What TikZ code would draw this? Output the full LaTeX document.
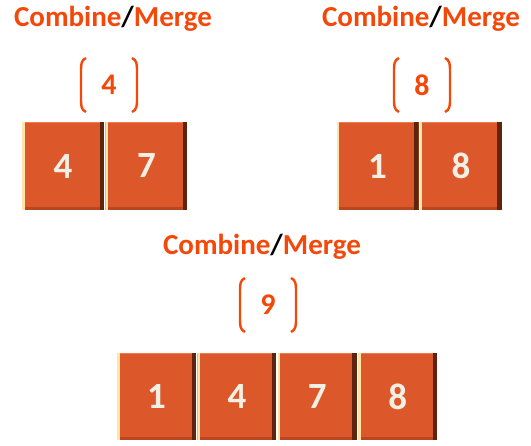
\documentclass[tikz,border=0pt]{standalone}
\usepackage{fontspec}
\setmainfont{Carlito}
\usetikzlibrary{positioning}

\definecolor{mergeorange}{HTML}{F4470A}
\definecolor{cellfill}{HTML}{DC582B}
\definecolor{celltext}{HTML}{F2EFE4}
\definecolor{bevlight}{HTML}{FFE6A8}
\definecolor{bevdark}{HTML}{5E2410}
\definecolor{bevbottom}{HTML}{B9461F}
\definecolor{bevtop}{HTML}{F07A4A}

\begin{document}
\begin{tikzpicture}[
  x=1pt, y=-1pt,
  title/.style={font=\fontsize{29}{30}\selectfont\bfseries, text=mergeorange,
                inner sep=0pt, anchor=base},
  cell/.style={rectangle, fill=cellfill, inner sep=0pt, minimum width=82pt,
               minimum height=88pt, text=celltext,
               font=\fontsize{37}{38}\selectfont\bfseries,
               text depth=-10pt,
               path picture={
                 \fill[bevtop] (path picture bounding box.north west) rectangle
                   ([yshift=-1.5pt]path picture bounding box.north east);
                 \fill[bevbottom] (path picture bounding box.south west) rectangle
                   ([yshift=3pt]path picture bounding box.south east);
                 \fill[bevlight] (path picture bounding box.south west) rectangle
                   ([xshift=2.5pt]path picture bounding box.north west);
                 \fill[bevdark] ([xshift=-4.5pt]path picture bounding box.south east) rectangle
                   (path picture bounding box.north east);
               }},
  wide/.style={cell, minimum width=79pt, minimum height=87pt},
  res/.style={font=\fontsize{30}{31}\selectfont\bfseries, text=mergeorange, inner sep=0pt},
  paren/.style={draw=mergeorange, line width=2.4pt},
]
\useasboundingbox (0,0) rectangle (531,446);

% titles
\node[title] (t1) at (113,27) {Combine\textcolor{black}{/}Merge};
\node[title] (t2) at (421,27) {Combine\textcolor{black}{/}Merge};
\node[title] (t3) at (262,255) {Combine\textcolor{black}{/}Merge};

% merged values in brackets
\node[res] (r1) at (109,85) {4};
\node[res] (r2) at (422,85) {8};
\node[res] (r3) at (268,305) {9};
\foreach \cx/\cy in {109/85, 422/85, 268/305} {
  \draw[paren] ({\cx-23},{\cy-27}) .. controls ({\cx-28},{\cy-25}) and ({\cx-28},{\cy-20}) .. ({\cx-28},{\cy-14})
    -- ({\cx-28},{\cy+14}) .. controls ({\cx-28},{\cy+20}) and ({\cx-28},{\cy+25}) .. ({\cx-23},{\cy+27});
  \draw[paren] ({\cx+23},{\cy-27}) .. controls ({\cx+28},{\cy-25}) and ({\cx+28},{\cy-20}) .. ({\cx+28},{\cy-14})
    -- ({\cx+28},{\cy+14}) .. controls ({\cx+28},{\cy+20}) and ({\cx+28},{\cy+25}) .. ({\cx+23},{\cy+27});
}

% left pair
\node[cell] (a4) at (63,166) {4};
\node[cell, right=1pt of a4] (a7) {7};

% right pair
\node[cell] (b1) at (377.5,166) {1};
\node[cell, right=1pt of b1] (b8) {8};

% merged row
\node[wide] (c1) at (156.5,396.5) {1};
\node[wide, right=1pt of c1] (c4) {4};
\node[wide, right=1pt of c4] (c7) {7};
\node[wide, right=1pt of c7] (c8) {8};
\end{tikzpicture}
\end{document}
